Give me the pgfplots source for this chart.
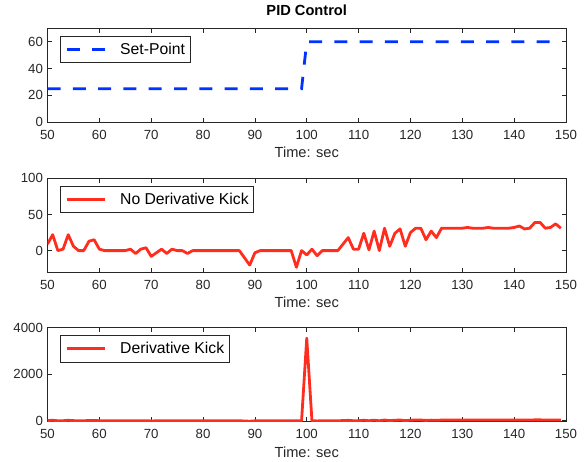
\documentclass[border=0pt]{standalone}
\usepackage{fontspec}
\setmainfont{Liberation Sans}
\usepackage{pgfplots}
\pgfplotsset{compat=1.18}
\definecolor{spblue}{RGB}{0,51,255}
\definecolor{kred}{RGB}{255,45,30}
\definecolor{axgray}{RGB}{38,38,38}

\pgfplotsset{
  pidax/.style={
    scale only axis, width=518.5bp, height=94bp,
    anchor=south west,
    xmin=50, xmax=150, xtick={50,60,...,150},
    tick align=inside, major tick length=4.5bp,
    axis line style={line width=0.6bp, draw=axgray},
    every tick/.style={line width=0.6bp, draw=axgray},
    tick label style={font=\fontsize{13.3}{16}\selectfont, text=axgray,
      /pgf/number format/assume math mode=true},
    xticklabel style={inner sep=0pt, yshift=-7.5bp},
    yticklabel style={inner sep=0pt, xshift=-4.4bp},
    scaled y ticks=false,
    y tick label style={/pgf/number format/.cd, fixed, 1000 sep={}},
    xlabel={Time: sec},
    xlabel style={font=\fontsize{14.7}{17}\selectfont, text=axgray,
      at={(axis description cs:0.5,0)}, anchor=base, yshift=-35.7bp, inner sep=0pt},
    legend style={at={(0,1)}, anchor=north west, xshift=12.5bp, yshift=-7.3bp,
      draw=axgray, line width=0.7bp, fill=white, inner xsep=5bp, inner ysep=7bp,
      column sep=14bp,
      font=\fontsize{15.8}{19}\selectfont, nodes={inner sep=0pt}},
    legend image code/.code={\draw[#1] (0bp,0bp) -- (38bp,0bp);},
  }
}

% control output, same run for both lower panels
\pgfplotstableread{
t u
50 9
51 22
52 0
53 2
54 22
55 6
56 0
57 0
58 13
59 15
60 2
61 0
62 0
63 0
64 0
65 0
66 2
67 -4
68 2
69 4
70 -8
71 -3
72 2
73 -4
74 2
75 0
76 0
77 -4
78 0
79 0
80 0
81 0
82 0
83 0
84 0
85 0
86 0
87 0
88 -10
89 -20
90 -3
91 0
92 0
93 0
94 0
95 0
96 0
97 0
98 -23
99 0
100 -6
101 2
102 -7
103 0
104 0
105 0
106 0
107 9
108 18
109 2
110 2
111 24
112 1
113 27
114 0
115 31
116 6
117 24
118 30
119 6
120 25
121 31
122 31
123 15
124 27
125 18
126 31
127 31
128 31
129 31
130 31
131 32
132 31
133 31
134 31
135 32
136 31
137 31
138 31
139 31
140 32
141 34
142 30
143 31
144 39
145 39
146 31
147 32
148 37
149 31
}\nokick

\pgfplotstableread{
t u
50 9
51 22
52 0
53 2
54 22
55 6
56 0
57 0
58 13
59 15
60 2
61 0
65 0
66 2
67 -4
68 2
69 4
70 -8
71 -3
72 2
73 -4
74 2
75 0
76 0
77 -4
78 0
87 0
88 -10
89 -20
90 -3
91 0
98 0
99 0
100 3550
101 2
102 -7
103 0
106 0
107 9
108 18
109 2
110 2
111 24
112 1
113 27
114 0
115 31
116 6
117 24
118 30
119 6
120 25
121 31
122 31
123 15
124 27
125 18
126 31
140 32
141 34
142 30
143 31
144 39
145 39
146 31
147 32
148 37
149 31
}\kick

\begin{document}
\begin{tikzpicture}
\useasboundingbox (0,0) rectangle (585bp,462bp);

\begin{axis}[pidax, at={(47.5bp,339.7bp)},
    ymin=0, ymax=70, ytick={0,20,40,60},
    title={PID Control},
    title style={font=\bfseries\fontsize{14.7}{17}\selectfont,
      at={(axis description cs:0.5,1)}, anchor=base, yshift=7bp, inner sep=0pt}]
\addplot[spblue, line width=2.8bp, dash pattern=on 13bp off 12.3bp] coordinates {
  (50,25) (99,25) (100,60) (149,60)
};
\addlegendentry{Set-Point}
\end{axis}

\begin{axis}[pidax, at={(47.5bp,189.7bp)},
    ymin=-30, ymax=100, ytick={0,50,100}]
\addplot[kred, line width=2.8bp, line join=round] table[x=t, y=u] {\nokick};
\addlegendentry{No Derivative Kick}
\end{axis}

\begin{axis}[pidax, at={(47.5bp,40.3bp)},
    ymin=-40, ymax=4000, ytick={0,2000,4000}]
\addplot[kred, line width=2.8bp, line join=round] table[x=t, y=u] {\kick};
\addlegendentry{Derivative Kick}
\end{axis}
\end{tikzpicture}
\end{document}
